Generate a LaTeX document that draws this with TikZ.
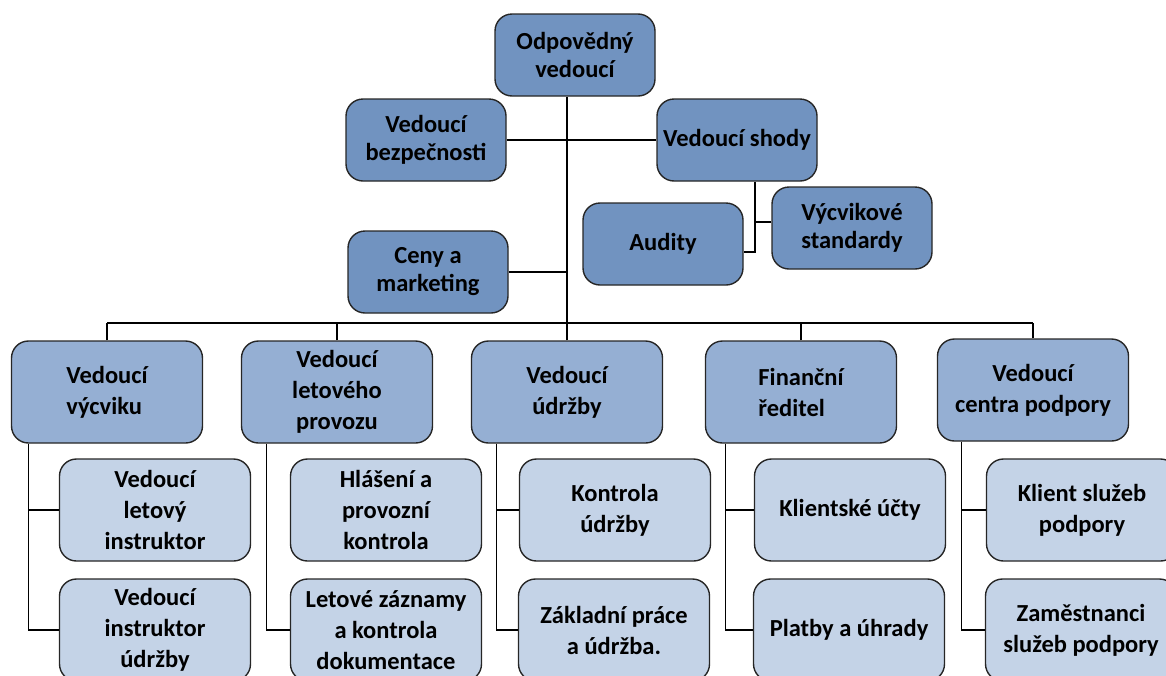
\documentclass[tikz,border=0pt]{standalone}
\usepackage{fontspec}
\setmainfont{Carlito}
\definecolor{topblue}{HTML}{7193C0}
\definecolor{midblue}{HTML}{95AFD3}
\definecolor{lightblue}{HTML}{C4D3E7}
\begin{document}
\begin{tikzpicture}[x=1pt,y=-1pt,
  box/.style={draw=black!85, line width=1.4pt, rounded corners=17pt,
    align=center, inner sep=2pt,
    font=\bfseries\fontsize{24.5}{31}\selectfont},
  topbox/.style={box, fill=topblue, minimum width=160pt, minimum height=82pt,
    font=\bfseries\fontsize{24.5}{28}\selectfont},
  headbox/.style={box, fill=midblue, minimum width=191pt, minimum height=102pt},
  subbox/.style={box, fill=lightblue, minimum width=191pt, minimum height=102pt},
  link/.style={draw=black, line width=1.2pt}]
\useasboundingbox (0,0) rectangle (1166,675);
\clip (0,0) rectangle (1166,675);

\coordinate (bus) at (0,323);

% top management
\node[topbox] (odp) at (575,55) {Odpovědný\\vedoucí};
\node[topbox] (bez) at (426,140) {Vedoucí\\bezpečnosti};
\node[topbox] (shody) at (737,140) {Vedoucí shody};
\node[topbox] (aud) at (663,244) {Audity};
\node[topbox] (std) at (852,228) {Výcvikové\\standardy};
\node[topbox] (ceny) at (428,272) {Ceny a\\marketing};

% department heads
\node[headbox, align=left] (vyc) at (107,392) {Vedoucí\\výcviku};
\node[headbox] (let) at (337,392) {Vedoucí\\letového\\provozu};
\node[headbox] (udr) at (567,392) {Vedoucí\\údržby};
\node[headbox, align=left] (fin) at (801,392) {Finanční\\ředitel};
\node[headbox] (cen) at (1033,390) {Vedoucí\\centra podpory};

% staff units
\node[subbox] (vyc1) at (155,510) {Vedoucí\\letový\\instruktor};
\node[subbox] (vyc2) at (155,630) {Vedoucí\\instruktor\\údržby};
\node[subbox] (let1) at (386,510) {Hlášení a\\provozní\\kontrola};
\node[subbox] (let2) at (386,630) {Letové záznamy\\a kontrola\\dokumentace};
\node[subbox] (udr1) at (615,510) {Kontrola\\údržby};
\node[subbox] (udr2) at (614,630) {Základní práce\\a údržba.};
\node[subbox] (fin1) at (850,510) {Klientské účty};
\node[subbox] (fin2) at (849,630) {Platby a úhrady};
\node[subbox] (cen1) at (1082,510) {Klient služeb\\podpory};
\node[subbox] (cen2) at (1081,630) {Zaměstnanci\\služeb podpory};

% trunk and side branches
\coordinate (trunk) at ([xshift=-8pt]odp.south);
\draw[link] (trunk) -- (trunk |- bus);
\draw[link] (bez.east) -- (shody.west);
\draw[link] (ceny.east) -- (ceny.east -| trunk);

% compliance branch
\coordinate (sj) at ([xshift=18pt]shody.south);
\draw[link] (sj) |- ([yshift=-8pt]aud.east);
\draw[link] ([yshift=6pt]std.west) -| (sj);

% main bus to department heads
\draw[link] (vyc.north |- bus) -- (cen.north |- bus);
\foreach \h in {vyc,let,udr,fin,cen}
  \draw[link] (\h.north) -- (\h.north |- bus);

% spines to staff units
\coordinate (sv) at ([xshift=18pt]vyc.south west);
\coordinate (sl) at ([xshift=26pt]let.south west);
\coordinate (su) at ([xshift=26pt]udr.south west);
\coordinate (sf) at ([xshift=21pt]fin.south west);
\coordinate (sc) at ([xshift=25pt]cen.south west);
\draw[link] (sv) |- (vyc2.west);
\draw[link] (sv) |- (vyc1.west);
\draw[link] (sl) |- (let2.west);
\draw[link] (su) |- (udr2.west);
\draw[link] (su) |- (udr1.west);
\draw[link] (sf) |- (fin2.west);
\draw[link] (sf) |- (fin1.west);
\draw[link] (sc) |- (cen2.west);
\draw[link] (sc) |- (cen1.west);
\end{tikzpicture}
\end{document}
